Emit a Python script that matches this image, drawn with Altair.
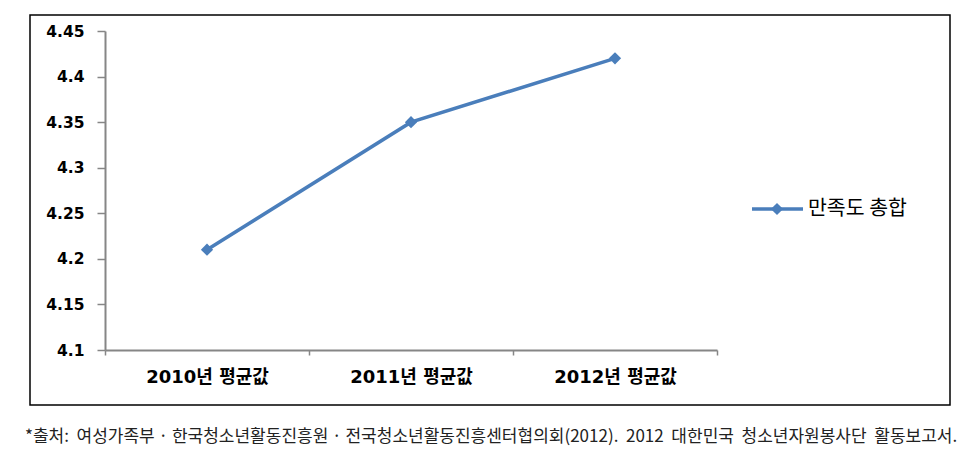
import altair as alt
import pandas as pd

categories = ["2010년 평균값", "2011년 평균값", "2012년 평균값"]
values = [4.21, 4.35, 4.42]
series_name = "만족도 총합"
y_ticks = [4.1, 4.15, 4.2, 4.25, 4.3, 4.35, 4.4, 4.45]
source_note = "*출처:\u00a0 여성가족부 · 한국청소년활동진흥원 · 전국청소년활동진흥센터협의회(2012).\u00a0 2012\u00a0 대한민국\u00a0 청소년자원봉사단\u00a0 활동보고서."

LINE = "#4a7ebb"
AXIS = "#868686"

df = pd.DataFrame({"category": categories, "value": values})
one = pd.DataFrame({"series": [series_name], "note": [source_note]})

x_enc = alt.X(
    "category:N",
    sort=categories,
    scale=alt.Scale(type="band", paddingInner=0, paddingOuter=0),
    bandPosition=0.5,
    axis=alt.Axis(
        title=None,
        labelAngle=0,
        tickBand="extent",
        labelFont="DejaVu Sans, Noto Sans CJK KR",
        labelFontWeight="bold",
        labelFontSize=18,
        labelColor="#000000",
        labelPadding=13,
        tickSize=5,
        tickColor=AXIS,
        tickWidth=1.5,
        domainColor=AXIS,
        domainWidth=2,
        grid=False,
    ),
)
y_enc = alt.Y(
    "value:Q",
    scale=alt.Scale(domain=[4.1, 4.45], nice=False, zero=False),
    axis=alt.Axis(
        title=None,
        values=y_ticks,
        labelExpr="'' + datum.value",
        labelFont="DejaVu Sans",
        labelFontWeight="bold",
        labelFontSize=15.5,
        labelColor="#000000",
        labelPadding=13,
        tickSize=8,
        tickColor=AXIS,
        tickWidth=1.5,
        domainColor=AXIS,
        domainWidth=2,
        grid=False,
    ),
)

base = alt.Chart(df)
line = base.mark_line(color=LINE, strokeWidth=3.5).encode(x=x_enc, y=y_enc)
pts = base.mark_point(shape="diamond", filled=True, size=150, color=LINE, opacity=1).encode(x=x_enc, y=y_enc)

frame = alt.Chart(one).mark_rect(fill=None, stroke="#000000", strokeWidth=1.5).encode(
    x=alt.value(-75), x2=alt.value(845), y=alt.value(-16), y2=alt.value(374)
)

leg_rule = alt.Chart(one).mark_rule(color=LINE, strokeWidth=3.5).encode(
    x=alt.value(647), x2=alt.value(698), y=alt.value(178)
)
leg_pt = alt.Chart(one).mark_point(shape="diamond", filled=True, size=150, color=LINE, opacity=1).encode(
    x=alt.value(672), y=alt.value(178)
)
leg_txt = alt.Chart(one).mark_text(
    align="left", baseline="middle", font="Noto Sans CJK KR", fontSize=20.5, color="#000000"
).encode(x=alt.value(703), y=alt.value(178), text="series:N")

note = alt.Chart(one).mark_text(
    align="left", baseline="middle", font="Noto Sans CJK KR", fontSize=17, color="#222222"
).encode(x=alt.value(-80), y=alt.value(406), text="note:N")

chart = (
    alt.layer(frame, line, pts, leg_rule, leg_pt, leg_txt, note)
    .properties(
        width=612,
        height=319,
        autosize=alt.AutoSizeParams(type="none"),
        padding={"left": 105, "top": 31, "right": 263, "bottom": 109},
        background="#ffffff",
    )
    .configure_view(stroke=None)
)

chart.save("out.html", embed_options={"renderer": "svg", "actions": False})
